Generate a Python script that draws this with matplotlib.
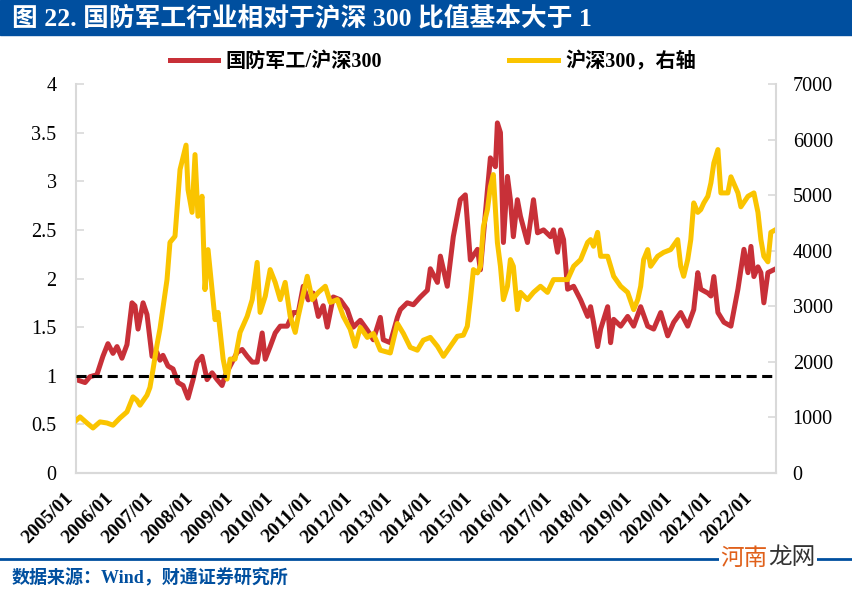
import numpy as np
import pandas as pd
import matplotlib
matplotlib.use("Agg")
import matplotlib.pyplot as plt
import matplotlib.transforms as mtransforms
from matplotlib.patches import Rectangle
from matplotlib.lines import Line2D

plt.rcParams['font.family'] = ['Liberation Serif', 'Noto Sans CJK SC']

# 国防军工/沪深300 (left axis)
ratio_dates = [
    "2005-01-04", "2005-03-25", "2005-05-08", "2005-07-11", "2005-09-04", "2005-10-20",
    "2005-12-05", "2006-01-11", "2006-02-25", "2006-04-12", "2006-05-28", "2006-06-24",
    "2006-07-22", "2006-09-06", "2006-10-12", "2006-11-27", "2007-01-11", "2007-02-08",
    "2007-03-07", "2007-04-22", "2007-06-07", "2007-07-22", "2007-09-07", "2007-10-22",
    "2007-12-07", "2008-01-13", "2008-02-27", "2008-04-13", "2008-05-29", "2008-07-14",
    "2008-08-28", "2008-09-25", "2008-11-10", "2009-01-13", "2009-02-28", "2009-04-15",
    "2009-05-31", "2009-07-15", "2009-08-30", "2009-09-27", "2009-11-11", "2009-12-27",
    "2010-02-11", "2010-04-16", "2010-06-10", "2010-07-26", "2010-09-09", "2010-10-25",
    "2010-12-10", "2011-01-25", "2011-03-11", "2011-04-17", "2011-06-11", "2011-08-14",
    "2011-10-17", "2011-12-11", "2012-02-13", "2012-04-17", "2012-06-11", "2012-08-14",
    "2012-09-10", "2012-11-13", "2013-01-17", "2013-02-13", "2013-04-17", "2013-06-12",
    "2013-08-15", "2013-10-18", "2013-11-14", "2014-01-18", "2014-02-14", "2014-04-18",
    "2014-06-12", "2014-08-15", "2014-09-30", "2014-11-15", "2015-01-19", "2015-02-15",
    "2015-04-20", "2015-05-17", "2015-07-02", "2015-07-20", "2015-08-17", "2015-09-13",
    "2015-10-20", "2015-11-16", "2015-12-13", "2016-01-19", "2016-02-16", "2016-04-20",
    "2016-06-14", "2016-07-21", "2016-09-14", "2016-11-17", "2016-12-14", "2017-01-20",
    "2017-02-17", "2017-03-16", "2017-04-22", "2017-06-16", "2017-08-19", "2017-10-22",
    "2017-11-18", "2017-12-15", "2018-01-21", "2018-02-18", "2018-04-23", "2018-05-20",
    "2018-06-17", "2018-08-20", "2018-10-23", "2018-12-17", "2019-02-19", "2019-04-24",
    "2019-06-18", "2019-08-21", "2019-10-24", "2019-12-18", "2020-02-20", "2020-04-24",
    "2020-06-18", "2020-07-25", "2020-08-21", "2020-10-25", "2020-11-22", "2020-12-19",
    "2021-01-25", "2021-03-21", "2021-05-24", "2021-07-27", "2021-09-20", "2021-10-27",
    "2021-11-23", "2021-12-20", "2022-01-26", "2022-02-22", "2022-03-21", "2022-04-27",
    "2022-06-20", "2022-07-08",
]
ratio_vals = [
    0.96, 0.93, 0.99, 1.01, 1.20, 1.33,
    1.23, 1.30, 1.18, 1.32, 1.75, 1.72,
    1.48, 1.75, 1.63, 1.20, 1.24, 1.16,
    1.21, 1.10, 1.07, 0.93, 0.90, 0.77,
    0.96, 1.14, 1.20, 0.96, 1.03, 0.96,
    0.90, 1.00, 1.10, 1.24, 1.27, 1.20,
    1.14, 1.14, 1.44, 1.17, 1.30, 1.44,
    1.51, 1.51, 1.65, 1.65, 1.92, 1.78,
    1.85, 1.61, 1.72, 1.50, 1.81, 1.78,
    1.68, 1.50, 1.57, 1.47, 1.37, 1.60,
    1.37, 1.34, 1.60, 1.68, 1.75, 1.73,
    1.81, 1.88, 2.10, 1.96, 2.23, 1.92,
    2.43, 2.81, 2.86, 2.19, 2.30, 2.09,
    2.91, 3.24, 3.15, 3.60, 3.50, 2.37,
    3.05, 2.81, 2.43, 2.81, 2.64, 2.37,
    2.81, 2.47, 2.50, 2.43, 2.50, 2.27,
    2.50, 2.40, 1.89, 1.92, 1.78, 1.61,
    1.71, 1.55, 1.30, 1.48, 1.71, 1.34,
    1.58, 1.51, 1.61, 1.51, 1.71, 1.51,
    1.48, 1.65, 1.41, 1.55, 1.65, 1.51,
    1.68, 2.06, 1.89, 1.85, 1.82, 2.02,
    1.65, 1.55, 1.51, 1.89, 2.30, 2.06,
    2.33, 2.02, 2.12, 2.06, 1.75, 2.06,
    2.09, 2.10,
]

# 沪深300 (right axis)
hs300_dates = [
    "2005-01-04", "2005-02-07", "2005-04-11", "2005-06-05", "2005-08-08", "2005-10-11",
    "2005-12-05", "2006-02-07", "2006-04-12", "2006-06-06", "2006-07-12", "2006-08-09",
    "2006-10-12", "2006-11-08", "2006-12-05", "2007-01-11", "2007-02-08", "2007-04-13",
    "2007-05-10", "2007-06-25", "2007-08-10", "2007-10-04", "2007-10-22", "2007-11-28",
    "2007-12-25", "2008-01-21", "2008-02-27", "2008-03-25", "2008-04-22", "2008-05-29",
    "2008-06-25", "2008-07-23", "2008-09-07", "2008-10-13", "2008-11-10", "2008-12-25",
    "2009-02-09", "2009-04-15", "2009-05-31", "2009-07-15", "2009-08-11", "2009-09-27",
    "2009-11-11", "2009-12-27", "2010-02-11", "2010-03-28", "2010-05-13", "2010-06-28",
    "2010-07-26", "2010-10-16", "2010-12-01", "2011-01-25", "2011-03-30", "2011-05-15",
    "2011-07-18", "2011-09-10", "2011-11-12", "2011-12-28", "2012-02-13", "2012-04-17",
    "2012-06-11", "2012-08-14", "2012-11-13", "2013-01-17", "2013-03-13", "2013-05-15",
    "2013-07-18", "2013-09-11", "2013-11-14", "2014-01-18", "2014-03-14", "2014-05-16",
    "2014-07-19", "2014-09-12", "2014-10-18", "2014-11-15", "2014-12-13", "2015-01-19",
    "2015-02-15", "2015-03-14", "2015-04-20", "2015-05-17", "2015-06-13", "2015-07-20",
    "2015-08-17", "2015-09-13", "2015-10-20", "2015-11-16", "2015-12-13", "2016-01-19",
    "2016-02-16", "2016-04-20", "2016-06-14", "2016-08-17", "2016-10-20", "2016-12-14",
    "2017-02-17", "2017-04-22", "2017-06-16", "2017-08-19", "2017-10-22", "2017-11-18",
    "2017-12-15", "2018-01-21", "2018-02-18", "2018-04-23", "2018-06-17", "2018-08-20",
    "2018-10-23", "2018-12-17", "2019-01-23", "2019-02-19", "2019-03-18", "2019-04-24",
    "2019-05-21", "2019-07-24", "2019-09-17", "2019-11-20", "2020-01-23", "2020-02-20",
    "2020-03-18", "2020-04-24", "2020-05-22", "2020-06-18", "2020-07-25", "2020-08-21",
    "2020-09-18", "2020-10-25", "2020-11-22", "2020-12-19", "2021-01-25", "2021-02-21",
    "2021-04-26", "2021-05-24", "2021-07-27", "2021-08-23", "2021-10-27", "2021-12-20",
    "2022-01-26", "2022-02-22", "2022-03-21", "2022-04-27", "2022-05-24", "2022-07-08",
]
hs300_vals = [
    950, 1010, 900, 810, 920, 900,
    860, 990, 1100, 1370, 1310, 1220,
    1400, 1540, 1850, 2300, 2600, 3480,
    4150, 4260, 5460, 5900, 5100, 4690,
    5730, 4620, 4980, 3300, 4020, 3300,
    2760, 2890, 2050, 1690, 2050, 2050,
    2530, 2820, 3120, 3790, 2890, 3180,
    3660, 3430, 3120, 3430, 2820, 2530,
    2820, 3540, 3120, 3250, 3360, 3070,
    3120, 2820, 2590, 2280, 2620, 2440,
    2510, 2210, 2160, 2690, 2510, 2260,
    2210, 2390, 2440, 2280, 2100, 2280,
    2460, 2480, 2640, 3120, 3660, 3600,
    3720, 4430, 4740, 5150, 5370, 4150,
    3720, 3120, 3360, 3840, 3720, 2940,
    3250, 3120, 3250, 3360, 3250, 3480,
    3480, 3480, 3720, 3840, 4150, 4200,
    4080, 4330, 3900, 3900, 3540, 3360,
    3250, 2940, 3120, 3360, 3840, 4020,
    3720, 3900, 3970, 4020, 4200, 3720,
    3540, 3840, 4200, 4860, 4690, 4740,
    4860, 4980, 5220, 5580, 5820, 5040,
    5040, 5330, 5040, 4790, 4980, 5040,
    4690, 4200, 3900, 3800, 4330, 4380,
]

tick_years = list(range(2005, 2023))
tick_labels = [f"{y}/01" for y in tick_years]

BLUE = "#004f9f"
RED = "#c83038"
YELLOW = "#fac400"
GRID = "#d9d9d9"

fig = plt.figure(figsize=(8.53, 5.93), dpi=100)

# title bar
fig.patches.append(Rectangle((0, 1 - 35 / 593), 1, 35 / 593, transform=fig.transFigure,
                             color=BLUE, zorder=0))
fig.text(12 / 853, 1 - 18 / 593, "图 22. 国防军工行业相对于沪深 300 比值基本大于 1",
         color="white", fontsize=18.5, fontweight="bold", va="center", ha="left")

ax = fig.add_axes([76 / 853, 1 - 473 / 593, 700 / 853, 389 / 593])
ax2 = ax.twinx()

rd = pd.to_datetime(ratio_dates)
hd = pd.to_datetime(hs300_dates)
l1, = ax.plot(rd, ratio_vals, color=RED, lw=3.6, solid_joinstyle="round")
l2, = ax2.plot(hd, hs300_vals, color=YELLOW, lw=3.6, solid_joinstyle="round")

# reference line at ratio = 1, drawn on top of both series
trans = mtransforms.blended_transform_factory(ax2.transAxes, ax.transData)
ax2.plot([0, 1], [1, 1], transform=trans, color="black", lw=2.2,
         linestyle=(0, (3.3, 1.8)), zorder=5)

ax.set_xlim(pd.Timestamp("2005-01-01"), pd.Timestamp("2022-07-10"))
ax.set_ylim(0, 4)
ax2.set_ylim(0, 7000)
ax.set_yticks(np.arange(0, 4.01, 0.5))
ax.set_yticklabels([f"{v:g}" for v in np.arange(0, 4.01, 0.5)])
ax2.set_yticks(np.arange(0, 7001, 1000))

ax.set_xticks(pd.to_datetime([f"{y}-01-01" for y in tick_years]))
ax.set_xticklabels(tick_labels, rotation=45, ha="right", va="top", fontweight="bold",
                   fontsize=14)

for a in (ax, ax2):
    a.spines["top"].set_visible(False)
    for s in ("left", "right", "bottom"):
        a.spines[s].set_color(GRID)
        a.spines[s].set_linewidth(1.5)
ax.spines["right"].set_visible(False)
ax2.spines["left"].set_visible(False)

ax.tick_params(axis="y", direction="in", length=6, width=1.2, color=GRID,
               labelsize=14.5, pad=14)
ax2.tick_params(axis="y", direction="in", length=6, width=1.2, color=GRID,
                labelsize=14.5, pad=12)
ax.tick_params(axis="x", length=0, pad=12)

fig.legend([l1, l2], ["国防军工/沪深300", "沪深300，右轴"], loc="center",
           bbox_to_anchor=(433 / 853, 1 - 62 / 593), ncol=2, frameon=False,
           handlelength=2.4, handletextpad=0.4, columnspacing=6.3,
           prop={"weight": "bold", "size": 14.5})

# footer
fig.add_artist(Line2D([0, 1], [1 - 559 / 593] * 2, color=BLUE, lw=2))
fig.text(12 / 853, 1 - 578 / 593, "数据来源：Wind，财通证券研究所", color=BLUE,
         fontsize=13, fontweight="bold", va="center", ha="left")
fig.text(720 / 853, 1 - 558 / 593, "河南", color="#e0601a", fontsize=17,
         va="center", ha="left", family="Noto Sans CJK SC",
         bbox=dict(facecolor="white", edgecolor="none", pad=1))
fig.text(768 / 853, 1 - 558 / 593, "龙网", color="#333333", fontsize=17,
         va="center", ha="left", family="Noto Sans CJK SC",
         bbox=dict(facecolor="white", edgecolor="none", pad=1))

fig.savefig("out.png", dpi=100)
